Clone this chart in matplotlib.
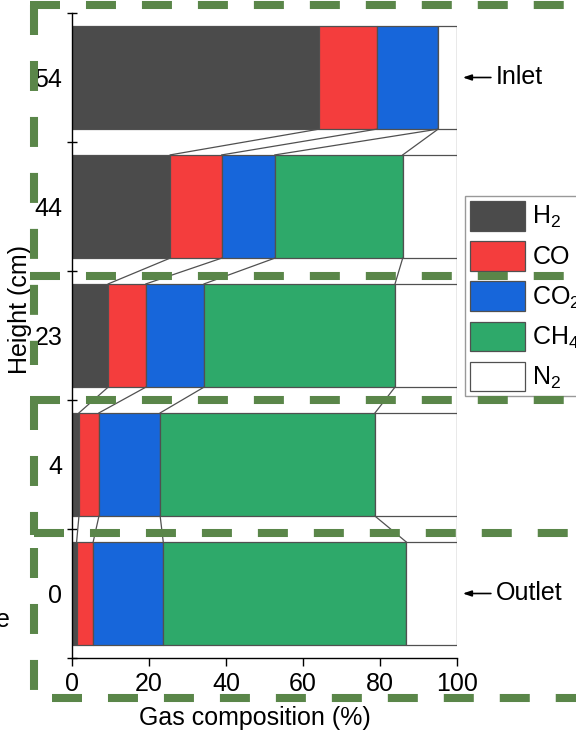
import matplotlib
matplotlib.use('agg')
import matplotlib.pyplot as plt
from matplotlib.lines import Line2D
from matplotlib.patches import Patch

plt.rcParams['font.family'] = ['Liberation Sans', 'DejaVu Sans']
plt.rcParams['mathtext.fontset'] = 'custom'
plt.rcParams['mathtext.rm'] = 'Liberation Sans'
plt.rcParams['mathtext.it'] = 'Liberation Sans:italic'
plt.rcParams['lines.scale_dashes'] = False

# data, top bar first
heights = ['54', '44', '23', '4', '0']
gases = ['H$_2$', 'CO', 'CO$_2$', 'CH$_4$', 'N$_2$']
h2 = [64.2, 25.5, 9.4, 1.8, 1.2]
co = [15.0, 13.4, 9.8, 5.2, 4.3]
co2 = [15.9, 13.8, 15.1, 15.9, 18.2]
ch4 = [0.0, 33.2, 49.6, 55.8, 63.1]
n2 = [4.9, 14.1, 16.1, 21.3, 13.2]
COLORS = ['#4b4b4b', '#f43d3d', '#1766da', '#2ea96a', '#ffffff']

FS = 18
W, H = 576, 735
fig = plt.figure(figsize=(W / 100, H / 100), dpi=100)
ax = fig.add_axes([72 / W, 1 - 658 / H, (457 - 72) / W, (658 - 13) / H])

series = [h2, co, co2, ch4, n2]
pos = [len(heights) - 1 - i for i in range(len(heights))]
bh = 0.8
left = [0.0] * len(heights)
bounds = []
for vals, col, lab in zip(series, COLORS, gases):
    ax.barh(pos, vals, height=bh, left=left, color=col, edgecolor='#505050',
            linewidth=0.9, label=lab, zorder=2)
    left = [l + v for l, v in zip(left, vals)]
    bounds.append(list(left))

# connector lines between neighbouring bars
for i in range(len(heights) - 1):
    for b in bounds:
        ax.plot([b[i], b[i + 1]], [pos[i] - bh / 2, pos[i + 1] + bh / 2],
                color='#505050', lw=0.9, zorder=3)

ax.set_xlim(0, 100)
ax.set_ylim(-0.5, len(heights) - 0.5)
ax.set_xticks(range(0, 101, 20))
ax.tick_params(axis='x', direction='out', length=6, width=1, labelsize=FS, pad=4)
ax.set_yticks([p - 0.5 for p in range(len(heights) + 1)])
ax.set_yticklabels([])
ax.set_yticks(pos, minor=True)
ax.set_yticklabels(heights, minor=True)
ax.tick_params(axis='y', which='major', direction='inout', length=7, width=1)
ax.tick_params(axis='y', which='minor', length=0, labelsize=FS, pad=7)
for s in ['top', 'right']:
    ax.spines[s].set_visible(False)
for s in ['left', 'bottom']:
    ax.spines[s].set_linewidth(1)

ax.set_xlabel('Gas composition (%)', fontsize=FS)
ax.xaxis.set_label_coords(0.475, -0.075)
ax.set_ylabel('Height (cm)', fontsize=FS)
ax.yaxis.set_label_coords(-0.103, 0.54)

# inlet / outlet arrows
for p, txt in [(pos[0], 'Inlet'), (pos[-1], 'Outlet')]:
    ax.annotate('', xy=(101.5, p), xytext=(108.8, p), annotation_clip=False,
                arrowprops=dict(arrowstyle='-|>,head_length=0.5,head_width=0.17',
                                color='black', lw=1.2, shrinkA=0, shrinkB=0))
    ax.text(110.0, p, txt, fontsize=FS, va='center', ha='left', clip_on=False)

handles = [Patch(facecolor=c, edgecolor='#505050', linewidth=0.9) for c in COLORS]
leg = ax.legend(handles, gases, loc='upper left', bbox_to_anchor=(465 / W, 1 - 196 / H),
                bbox_transform=fig.transFigure, fontsize=FS, frameon=True, fancybox=False,
                handlelength=2.2, handleheight=1.45, labelspacing=0.42, handletextpad=0.3,
                borderpad=0.2, borderaxespad=0)
leg.get_frame().set_edgecolor('#808080')
leg.get_frame().set_linewidth(1)

# stray letter from neighbouring panel
fig.text(-4 / W, 1 - 620 / H, 'e', fontsize=FS, va='center', ha='left')

# green dashed frames drawn over the figure
GREEN = '#5a8649'
segs = [
    ((30, 5), (590, 5)),
    ((34, 5), (34, 365)),
    ((30, 276), (590, 276)),
    ((30, 400), (590, 400)),
    ((34, 400), (34, 535)),
    ((34, 533), (590, 533)),
    ((34, 548), (34, 695)),
    ((52, 698), (590, 698)),
]
for (x0, y0), (x1, y1) in segs:
    fig.add_artist(Line2D([x0 / W, x1 / W], [1 - y0 / H, 1 - y1 / H], transform=fig.transFigure,
                          color=GREEN, lw=5.8, linestyle=(0, (21.6, 18.7)),
                          solid_capstyle='butt', dash_capstyle='butt', zorder=10))

fig.savefig('out.png', dpi=100)
